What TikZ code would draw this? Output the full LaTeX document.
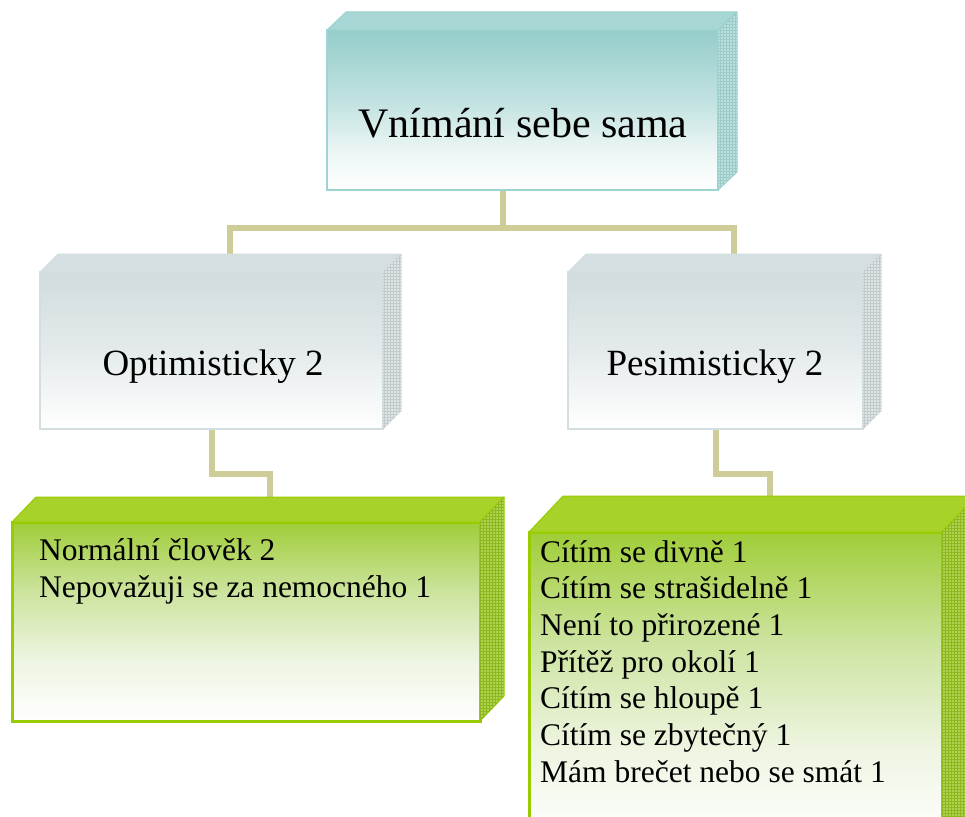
\documentclass[tikz,border=0pt]{standalone}
\usepackage{fontspec}
\setmainfont{Liberation Serif}
\usetikzlibrary{calc,patterns,backgrounds}

% palette
\definecolor{tealtop}{HTML}{95CDCB}
\definecolor{tealmid}{HTML}{C3E3E1}
\definecolor{teallow}{HTML}{E9F5F4}
\definecolor{tealedge}{HTML}{9DD3D0}
\definecolor{tealroof}{HTML}{A6D7D4}
\definecolor{tealside}{HTML}{BCE0DE}
\definecolor{tealgrid}{HTML}{9CCAC7}
\definecolor{graytop}{HTML}{D1DCDE}
\definecolor{graymid}{HTML}{E4EAEB}
\definecolor{grayedge}{HTML}{D2DEDF}
\definecolor{grayroof}{HTML}{D5DFE1}
\definecolor{grayside}{HTML}{E0E6E7}
\definecolor{graygrid}{HTML}{C2CACC}
\definecolor{greentop}{HTML}{A0CD38}
\definecolor{greenmid}{HTML}{CDE4A0}
\definecolor{greenlow}{HTML}{EEF5E2}
\definecolor{greenedge}{HTML}{99CC00}
\definecolor{greenroof}{HTML}{A6D22A}
\definecolor{greenside}{HTML}{AED352}
\definecolor{greengrid}{HTML}{8CB81E}
\definecolor{connc}{HTML}{CECD98}

% vertical fades (path box maps onto 25bp..75bp)
\pgfdeclareverticalshading{tealfade}{100bp}{color(0bp)=(white); color(25bp)=(white);
  color(38bp)=(teallow); color(52bp)=(tealmid); color(75bp)=(tealtop); color(100bp)=(tealtop)}
\pgfdeclareverticalshading{grayfade}{100bp}{color(0bp)=(white); color(25bp)=(white);
  color(50bp)=(graymid); color(75bp)=(graytop); color(100bp)=(graytop)}
\pgfdeclareverticalshading{greenfade}{100bp}{color(0bp)=(white); color(25bp)=(white);
  color(40bp)=(greenlow); color(57bp)=(greenmid); color(75bp)=(greentop); color(100bp)=(greentop)}

% roof and side of a box whose front face is node #1
% #2,#3 depth (right, up), #4 roof fill, #5 side fill, #6 side grid, #7 edge colour
\newcommand\boxfaces[7]{%
  \filldraw[fill=#4,draw=#7,line width=1pt,line join=round]
    (#1.north west) -- ++(#2,-#3) -- ([shift={(#2,-#3)}]#1.north east) -- (#1.north east) -- cycle;
  \filldraw[fill=#5,draw=#7,line width=1pt,line join=round]
    (#1.north east) -- ++(#2,-#3) -- ([shift={(#2,-#3)}]#1.south east) -- (#1.south east) -- cycle;
  \fill[pattern=grid,pattern color=#6]
    (#1.north east) -- ++(#2,-#3) -- ([shift={(#2,-#3)}]#1.south east) -- (#1.south east) -- cycle;
  \coordinate (#1-back) at ([shift={(#2,-#3)}]#1.north);
}

\begin{document}
\begin{tikzpicture}[x=1pt,y=-1pt,
  front/.style={anchor=north west,inner sep=0pt,outer sep=0pt},
  tealbox/.style={front,draw=tealedge,line width=2pt,shading=tealfade},
  graybox/.style={front,draw=grayedge,line width=2pt,shading=grayfade},
  greenbox/.style={front,draw=greenedge,line width=3pt,shading=greenfade},
  conn/.style={draw=connc,line width=6pt,line join=miter},
  bigtext/.style={anchor=base,inner sep=0pt,font=\fontsize{42}{50}\selectfont},
  midtext/.style={anchor=base,inner sep=0pt,font=\fontsize{37}{44}\selectfont},
  listtext/.style={anchor=base west,inner sep=0pt,font=\fontsize{31.5}{37}\selectfont}]
\useasboundingbox (0,0) rectangle (965,816);
\clip (0,0) rectangle (965,816);

% boxes (front faces)
\node[tealbox,minimum width=391pt,minimum height=160pt] (top) at (327,30) {};
\boxfaces{top}{19}{18}{tealroof}{tealside}{tealgrid}{tealedge}

\node[graybox,minimum width=343pt,minimum height=157pt] (opt) at (40,272) {};
\boxfaces{opt}{18}{18}{grayroof}{grayside}{graygrid}{grayedge}

\node[graybox,minimum width=295pt,minimum height=157pt] (pes) at (568,272) {};
\boxfaces{pes}{18}{18}{grayroof}{grayside}{graygrid}{grayedge}

\node[greenbox,minimum width=468pt,minimum height=199pt] (gopt) at (12,522) {};
\boxfaces{gopt}{24}{25}{greenroof}{greenside}{greengrid}{greenedge}

\node[greenbox,minimum width=413pt,minimum height=310pt] (gpes) at (529,532) {};
\boxfaces{gpes}{34}{36}{greenroof}{greenside}{greengrid}{greenedge}

% connectors
\begin{scope}[on background layer]
  \draw[conn] ([xshift=-19.5pt]top.south) -- ++(0,38) -| (opt-back);
  \draw[conn] ([xshift=-19.5pt]top.south) -- ++(0,38) -| (pes-back);
  \draw[conn] (opt.south) -- ++(0,44.5) -| (gopt-back);
  \draw[conn] (pes.south) -- ++(0,44.5) -| (gpes-back);
\end{scope}

% labels
\node[bigtext] (ttop) at (523,137) {Vnímání sebe sama};
\node[midtext] (topt) at (213,375) {Optimisticky 2};
\node[midtext] (tpes) at (715,375) {Pesimisticky 2};

\node[listtext] (lo1) at (39,560) {Normální člověk 2};
\node[listtext] (lo2) at (39,597) {Nepovažuji se za nemocného 1};

\foreach \t [count=\i] in {Cítím se divně 1,Cítím se strašidelně 1,Není to přirozené 1,
    Přítěž pro okolí 1,Cítím se hloupě 1,Cítím se zbytečný 1,Mám brečet nebo se smát 1}
  \node[listtext] (lp\i) at (540,{562+36.67*(\i-1)}) {\t};
\end{tikzpicture}
\end{document}
